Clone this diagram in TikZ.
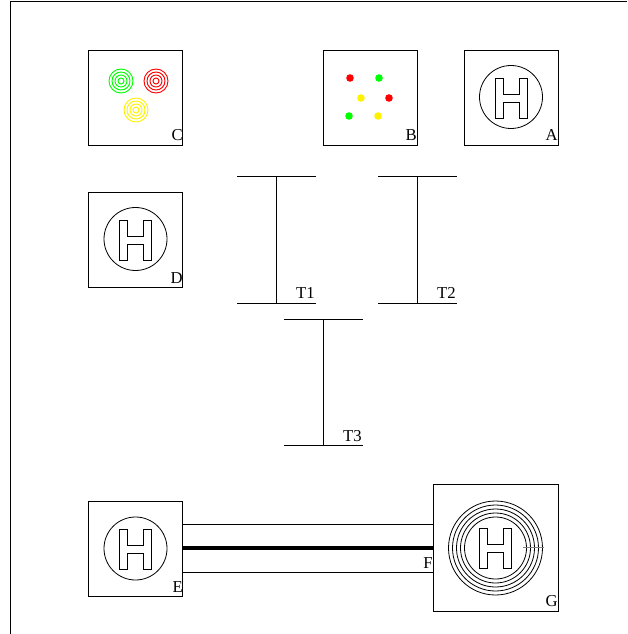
\documentclass[tikz,border=0pt]{standalone}
\usepackage{fontspec}
\setmainfont{Liberation Serif}
\usetikzlibrary{positioning}
\newcommand{\helipad}[2]{
\begin{scope}[shift={(#1,#2)}]
\draw[padline] (-16,-20) -- (-8,-20) -- (-8,-4) -- (8,-4) -- (8,-20) -- (16,-20) -- (16,20) -- (8,20) -- (8,4) -- (-8,4) -- (-8,20) -- (-16,20) -- cycle;
\end{scope}}
\tikzset{
padline/.style={line width=0.6pt},
boxsmall/.style={draw,line width=0.6pt,minimum width=70.5pt,minimum height=71.25pt,inner sep=0pt},
boxlarge/.style={draw,line width=0.6pt,minimum width=94.2pt,minimum height=95pt,inner sep=0pt},
boxlabel/.style={anchor=base east,inner sep=0pt,font=\fontsize{12.5}{13}\selectfont},
barline/.style={line width=0.6pt},
dot/.style={fill=#1,draw=none}
}
\begin{document}
\begin{tikzpicture}[x=0.75pt,y=-0.75pt]
\useasboundingbox (0,0) rectangle (627,634);
\coordinate (frameR) at (627,1);
\coordinate (frameC) at (10.5,1);
\coordinate (frameB) at (10.5,634);
\draw[barline] (frameR) -- (frameC) -- (frameB);

\node[boxsmall] (boxC) at (135.5,97.5) {};
\node[boxsmall] (boxB) at (370.5,97.5) {};
\node[boxsmall] (boxA) at (511.5,97.5) {};
\node[boxsmall] (boxD) at (135.5,240) {};
\node[boxsmall] (boxE) at (135.5,549) {};
\node[boxlarge] (boxG) at (495.7,548) {};

\foreach \r in {3,6,9,12} {
\draw[green,line width=0.7pt] (121,81) circle (\r);
\draw[red,line width=0.7pt] (156,81) circle (\r);
\draw[yellow,line width=0.7pt] (136,110) circle (\r);
}

\fill[dot=red] (350,78) circle (3.8);
\fill[dot=green] (379,78) circle (3.8);
\fill[dot=yellow] (361,98) circle (3.8);
\fill[dot=red] (389,98) circle (3.8);
\fill[dot=green] (349,116) circle (3.8);
\fill[dot=yellow] (378,116) circle (3.8);

\draw[padline] (511,97) circle (31.5);
\helipad{511}{98}
\draw[padline] (135.5,239) circle (31.5);
\helipad{135.5}{240}
\draw[padline] (135.5,548.5) circle (31.5);
\helipad{135.5}{549.5}
\foreach \r in {31,35,39,43,47} {
\draw[padline] (495.5,548) circle (\r);
}
\helipad{495.5}{548}
\draw[gray,line width=0.6pt] (523,547.5) -- (544,547.5);

\draw[barline] ([yshift=18.75pt]boxE.east) -- ([yshift=18.75pt]boxE.east -| boxG.west);
\draw[line width=2.4pt] ([yshift=0.75pt]boxE.east) -- ([yshift=0.75pt]boxE.east -| boxG.west);
\draw[barline] ([yshift=-17.25pt]boxE.east) -- ([yshift=-17.25pt]boxE.east -| boxG.west);

\draw[barline] (237,176) -- (316,176);
\draw[barline] (237,303) -- (316,303);
\draw[barline] (276.5,176) -- (276.5,303);
\draw[barline] (378,176) -- (457,176);
\draw[barline] (378,303) -- (457,303);
\draw[barline] (417.5,176) -- (417.5,303);
\draw[barline] (284,319) -- (363,319);
\draw[barline] (284,445) -- (363,445);
\draw[barline] (323.5,319) -- (323.5,445);

\node[boxlabel] (labelC) at (183,141) {C};
\node[boxlabel] (labelB) at (417,141) {B};
\node[boxlabel] (labelA) at (558,141) {A};
\node[boxlabel] (labelD) at (183,283) {D};
\node[boxlabel] (labelE) at (183,592) {E};
\node[boxlabel] (labelF) at (433,568) {F};
\node[boxlabel] (labelG) at (558,606) {G};
\node[boxlabel] (labelTa) at (315,298) {T1};
\node[boxlabel] (labelTb) at (456,298) {T2};
\node[boxlabel] (labelTc) at (362,441) {T3};
\end{tikzpicture}
\end{document}
